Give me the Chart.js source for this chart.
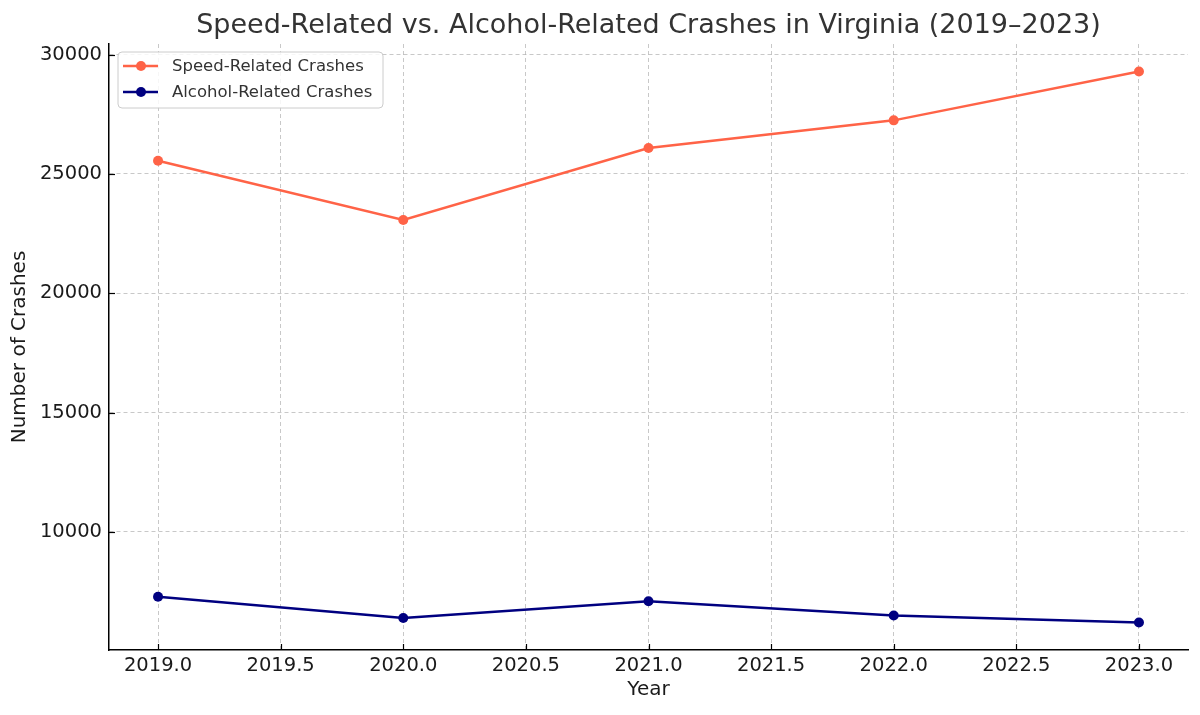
<!DOCTYPE html>
<html>
<head>
<meta charset="utf-8">
<script src="https://cdn.jsdelivr.net/npm/chart.js@4"></script>
<style>
  html, body { margin: 0; padding: 0; background: #ffffff; }
  #wrap { width: 1200px; height: 715px; }
</style>
</head>
<body>
<div id="wrap"><canvas id="c" width="1200" height="715"></canvas></div>
<script>
const chartTitle = 'Speed-Related vs. Alcohol-Related Crashes in Virginia (2019–2023)';
const years = [2019, 2020, 2021, 2022, 2023];
const speedCrashes = [25550, 23070, 26090, 27245, 29290];
const alcoholCrashes = [7290, 6400, 7100, 6505, 6210];
const seriesLabels = ['Speed-Related Crashes', 'Alcohol-Related Crashes'];
const xTicks = [2019.0, 2019.5, 2020.0, 2020.5, 2021.0, 2021.5, 2022.0, 2022.5, 2023.0];
const yTicks = [10000, 15000, 20000, 25000, 30000];
const xLabel = 'Year';
const yLabel = 'Number of Crashes';

const FONT = "'DejaVu Sans', sans-serif";
const speedColor = '#ff6347';
const alcoholColor = '#000080';

// matplotlib-like 5% margins
const allY = speedCrashes.concat(alcoholCrashes);
const yMinD = Math.min(...allY), yMaxD = Math.max(...allY);
const yPad = (yMaxD - yMinD) * 0.05;
const xPad = (years[years.length - 1] - years[0]) * 0.05;

const toPts = (arr) => years.map((yr, i) => ({ x: yr, y: arr[i] }));

const decorPlugin = {
  id: 'decor',
  afterDraw(chart) {
    const ctx = chart.ctx;
    const ca = chart.chartArea;
    const xs = chart.scales.x, ys = chart.scales.y;
    ctx.save();
    // inward tick marks
    ctx.strokeStyle = '#000';
    ctx.lineWidth = 1.2;
    xTicks.forEach(v => {
      const px = Math.round(xs.getPixelForValue(v)) + 0.5;
      ctx.beginPath(); ctx.moveTo(px, ca.bottom); ctx.lineTo(px, ca.bottom - 6); ctx.stroke();
    });
    yTicks.forEach(v => {
      const py = Math.round(ys.getPixelForValue(v)) + 0.5;
      ctx.beginPath(); ctx.moveTo(ca.left, py); ctx.lineTo(ca.left + 6, py); ctx.stroke();
    });
    // title centered over plot area
    ctx.fillStyle = '#333333';
    ctx.font = '27px ' + FONT;
    ctx.textAlign = 'center';
    ctx.textBaseline = 'alphabetic';
    ctx.fillText(chartTitle, (ca.left + ca.right) / 2, 33);

    // legend (upper left, inside)
    const bx = ca.left + 9, by = ca.top + 8, bw = 265, bh = 56, r = 4;
    ctx.beginPath();
    ctx.moveTo(bx + r, by);
    ctx.lineTo(bx + bw - r, by); ctx.quadraticCurveTo(bx + bw, by, bx + bw, by + r);
    ctx.lineTo(bx + bw, by + bh - r); ctx.quadraticCurveTo(bx + bw, by + bh, bx + bw - r, by + bh);
    ctx.lineTo(bx + r, by + bh); ctx.quadraticCurveTo(bx, by + bh, bx, by + bh - r);
    ctx.lineTo(bx, by + r); ctx.quadraticCurveTo(bx, by, bx + r, by);
    ctx.closePath();
    ctx.fillStyle = 'rgba(255,255,255,0.85)';
    ctx.fill();
    ctx.strokeStyle = '#cccccc';
    ctx.lineWidth = 1;
    ctx.stroke();

    chart.data.datasets.forEach((ds, i) => {
      const ry = by + 14 + i * 26;
      ctx.strokeStyle = ds.borderColor;
      ctx.lineWidth = 2.5;
      ctx.beginPath(); ctx.moveTo(bx + 5, ry); ctx.lineTo(bx + 40, ry); ctx.stroke();
      ctx.fillStyle = ds.borderColor;
      ctx.beginPath(); ctx.arc(bx + 23, ry, 5, 0, Math.PI * 2); ctx.fill();
      ctx.fillStyle = '#333333';
      ctx.font = '16.5px ' + FONT;
      ctx.textAlign = 'left';
      ctx.textBaseline = 'middle';
      ctx.fillText(ds.label, bx + 54, ry + 1);
    });
    ctx.restore();
  }
};

new Chart(document.getElementById('c'), {
  type: 'line',
  data: {
    datasets: [
      {
        label: seriesLabels[0],
        data: toPts(speedCrashes),
        borderColor: speedColor,
        backgroundColor: speedColor,
        borderWidth: 2.5,
        pointRadius: 5,
        pointBackgroundColor: speedColor,
        pointBorderWidth: 0,
        tension: 0
      },
      {
        label: seriesLabels[1],
        data: toPts(alcoholCrashes),
        borderColor: alcoholColor,
        backgroundColor: alcoholColor,
        borderWidth: 2.5,
        pointRadius: 5,
        pointBackgroundColor: alcoholColor,
        pointBorderWidth: 0,
        tension: 0
      }
    ]
  },
  options: {
    responsive: false,
    animation: false,
    devicePixelRatio: 1,
    layout: { padding: { left: 0, right: 12, top: 44, bottom: 0 } },
    plugins: {
      legend: { display: false },
      title: { display: false },
      tooltip: { enabled: false }
    },
    scales: {
      x: {
        type: 'linear',
        min: years[0] - xPad,
        max: years[years.length - 1] + xPad,
        afterBuildTicks: (s) => { s.ticks = xTicks.map(v => ({ value: v })); },
        afterFit: (s) => { s.height = 65; },
        ticks: {
          color: '#1a1a1a',
          font: { family: FONT, size: 19.5 },
          padding: 4,
          maxRotation: 0,
          autoSkip: false,
          callback: (v) => Number(v).toFixed(1)
        },
        grid: { color: 'rgba(176,176,176,0.7)', lineWidth: 1, drawTicks: false },
        border: { display: true, color: '#000', width: 1.5, dash: [4, 3] },
        title: {
          display: true,
          text: xLabel,
          color: '#1a1a1a',
          font: { family: FONT, size: 20 },
          padding: { top: 13, bottom: 13 }
        }
      },
      y: {
        type: 'linear',
        min: yMinD - yPad,
        max: yMaxD + yPad,
        afterBuildTicks: (s) => { s.ticks = yTicks.map(v => ({ value: v })); },
        afterFit: (s) => { s.width = 109; },
        ticks: {
          color: '#1a1a1a',
          font: { family: FONT, size: 19.5 },
          padding: 7,
          autoSkip: false,
          callback: (v) => String(v)
        },
        grid: { color: 'rgba(176,176,176,0.7)', lineWidth: 1, drawTicks: false },
        border: { display: true, color: '#000', width: 1.5, dash: [4, 3] },
        title: {
          display: true,
          text: yLabel,
          color: '#1a1a1a',
          font: { family: FONT, size: 20 },
          padding: { top: 8, bottom: 0 }
        }
      }
    }
  },
  plugins: [decorPlugin]
});
</script>
</body>
</html>
